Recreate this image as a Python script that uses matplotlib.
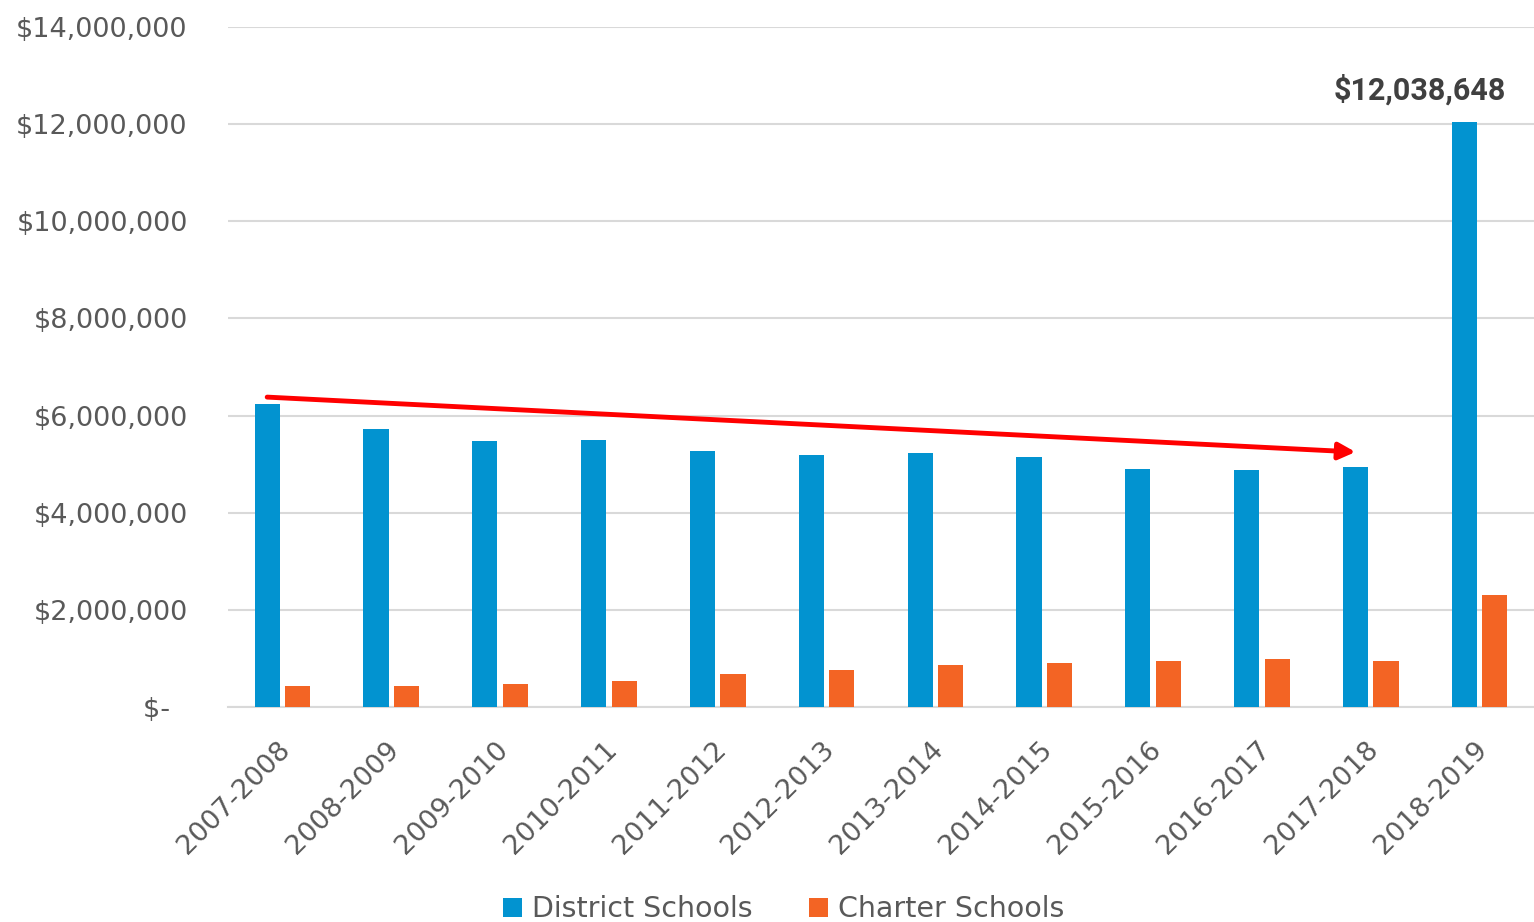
import matplotlib.pyplot as plt
from matplotlib.ticker import FuncFormatter
import matplotlib.transforms as mtransforms
import numpy as np

# school years and spending
years = ['2007-2008', '2008-2009', '2009-2010', '2010-2011', '2011-2012', '2012-2013',
         '2013-2014', '2014-2015', '2015-2016', '2016-2017', '2017-2018', '2018-2019']
district = [6240000, 5720000, 5470000, 5500000, 5270000, 5190000,
            5220000, 5150000, 4910000, 4870000, 4950000, 12038648]
charter = [430000, 430000, 470000, 540000, 670000, 760000,
           870000, 910000, 940000, 980000, 950000, 2310000]

blue = '#0293D0'
orange = '#F36424'
grey = '#595959'

plt.rcParams['font.family'] = ['DejaVu Sans']

fig = plt.figure(figsize=(15.34, 9.22), dpi=100)
ax = fig.add_axes([228 / 1534, 1 - 707 / 922, 1 - 228 / 1534, (707 - 27) / 922])

x = np.arange(len(years))
w = 0.23
off = 0.14
ax.bar(x - off, district, w, color=blue, label='District Schools', zorder=3)
ax.bar(x + off, charter, w, color=orange, label='Charter Schools', zorder=3)

ax.set_xlim(-0.5, len(years) - 0.5)
ax.set_ylim(0, 14000000)
ax.set_yticks(np.arange(0, 14000001, 2000000))


def money(v, pos):
    if v == 0:
        return '$-  '
    return '${:,.0f}'.format(v)


ax.yaxis.set_major_formatter(FuncFormatter(money))
ax.grid(axis='y', color='#d9d9d9', linewidth=1.5, zorder=0)
for s in ['top', 'right', 'left']:
    ax.spines[s].set_visible(False)
ax.spines['bottom'].set_color('#d9d9d9')
ax.spines['bottom'].set_linewidth(1.5)
ax.tick_params(axis='y', length=0, pad=29, labelsize=19.5, labelcolor=grey)
ax.tick_params(axis='x', length=0, pad=21, labelsize=19.5, labelcolor=grey)
ax.set_xticks(x)
ax.set_xticklabels(years, rotation=45, ha='right', rotation_mode='anchor')
shift = mtransforms.ScaledTranslation(-5 / 100, 0, fig.dpi_scale_trans)
for lbl in ax.get_xticklabels():
    lbl.set_transform(lbl.get_transform() + shift)

# trend arrow from first to second-to-last district bar
ax.annotate('', xy=(10 - off, district[10] + 300000), xytext=(0 - off, district[0] + 140000),
            arrowprops=dict(arrowstyle='-|>,head_length=1.0,head_width=0.5',
                            color='#FF0000', lw=3.5, shrinkA=0, shrinkB=0), zorder=4)

ax.text(11.24, district[-1] + 340000, '${:,}'.format(district[-1]), ha='right', va='bottom',
        fontsize=22, fontweight='bold', color='#404040', family=['Roboto', 'DejaVu Sans'])

fig.legend(loc='lower center', bbox_to_anchor=(0.511, -0.029), ncol=2, frameon=False,
           fontsize=20.5, labelcolor=grey, handlelength=0.65, handleheight=0.65,
           handletextpad=0.35, columnspacing=2.0)

fig.savefig('out.png', dpi=100)
